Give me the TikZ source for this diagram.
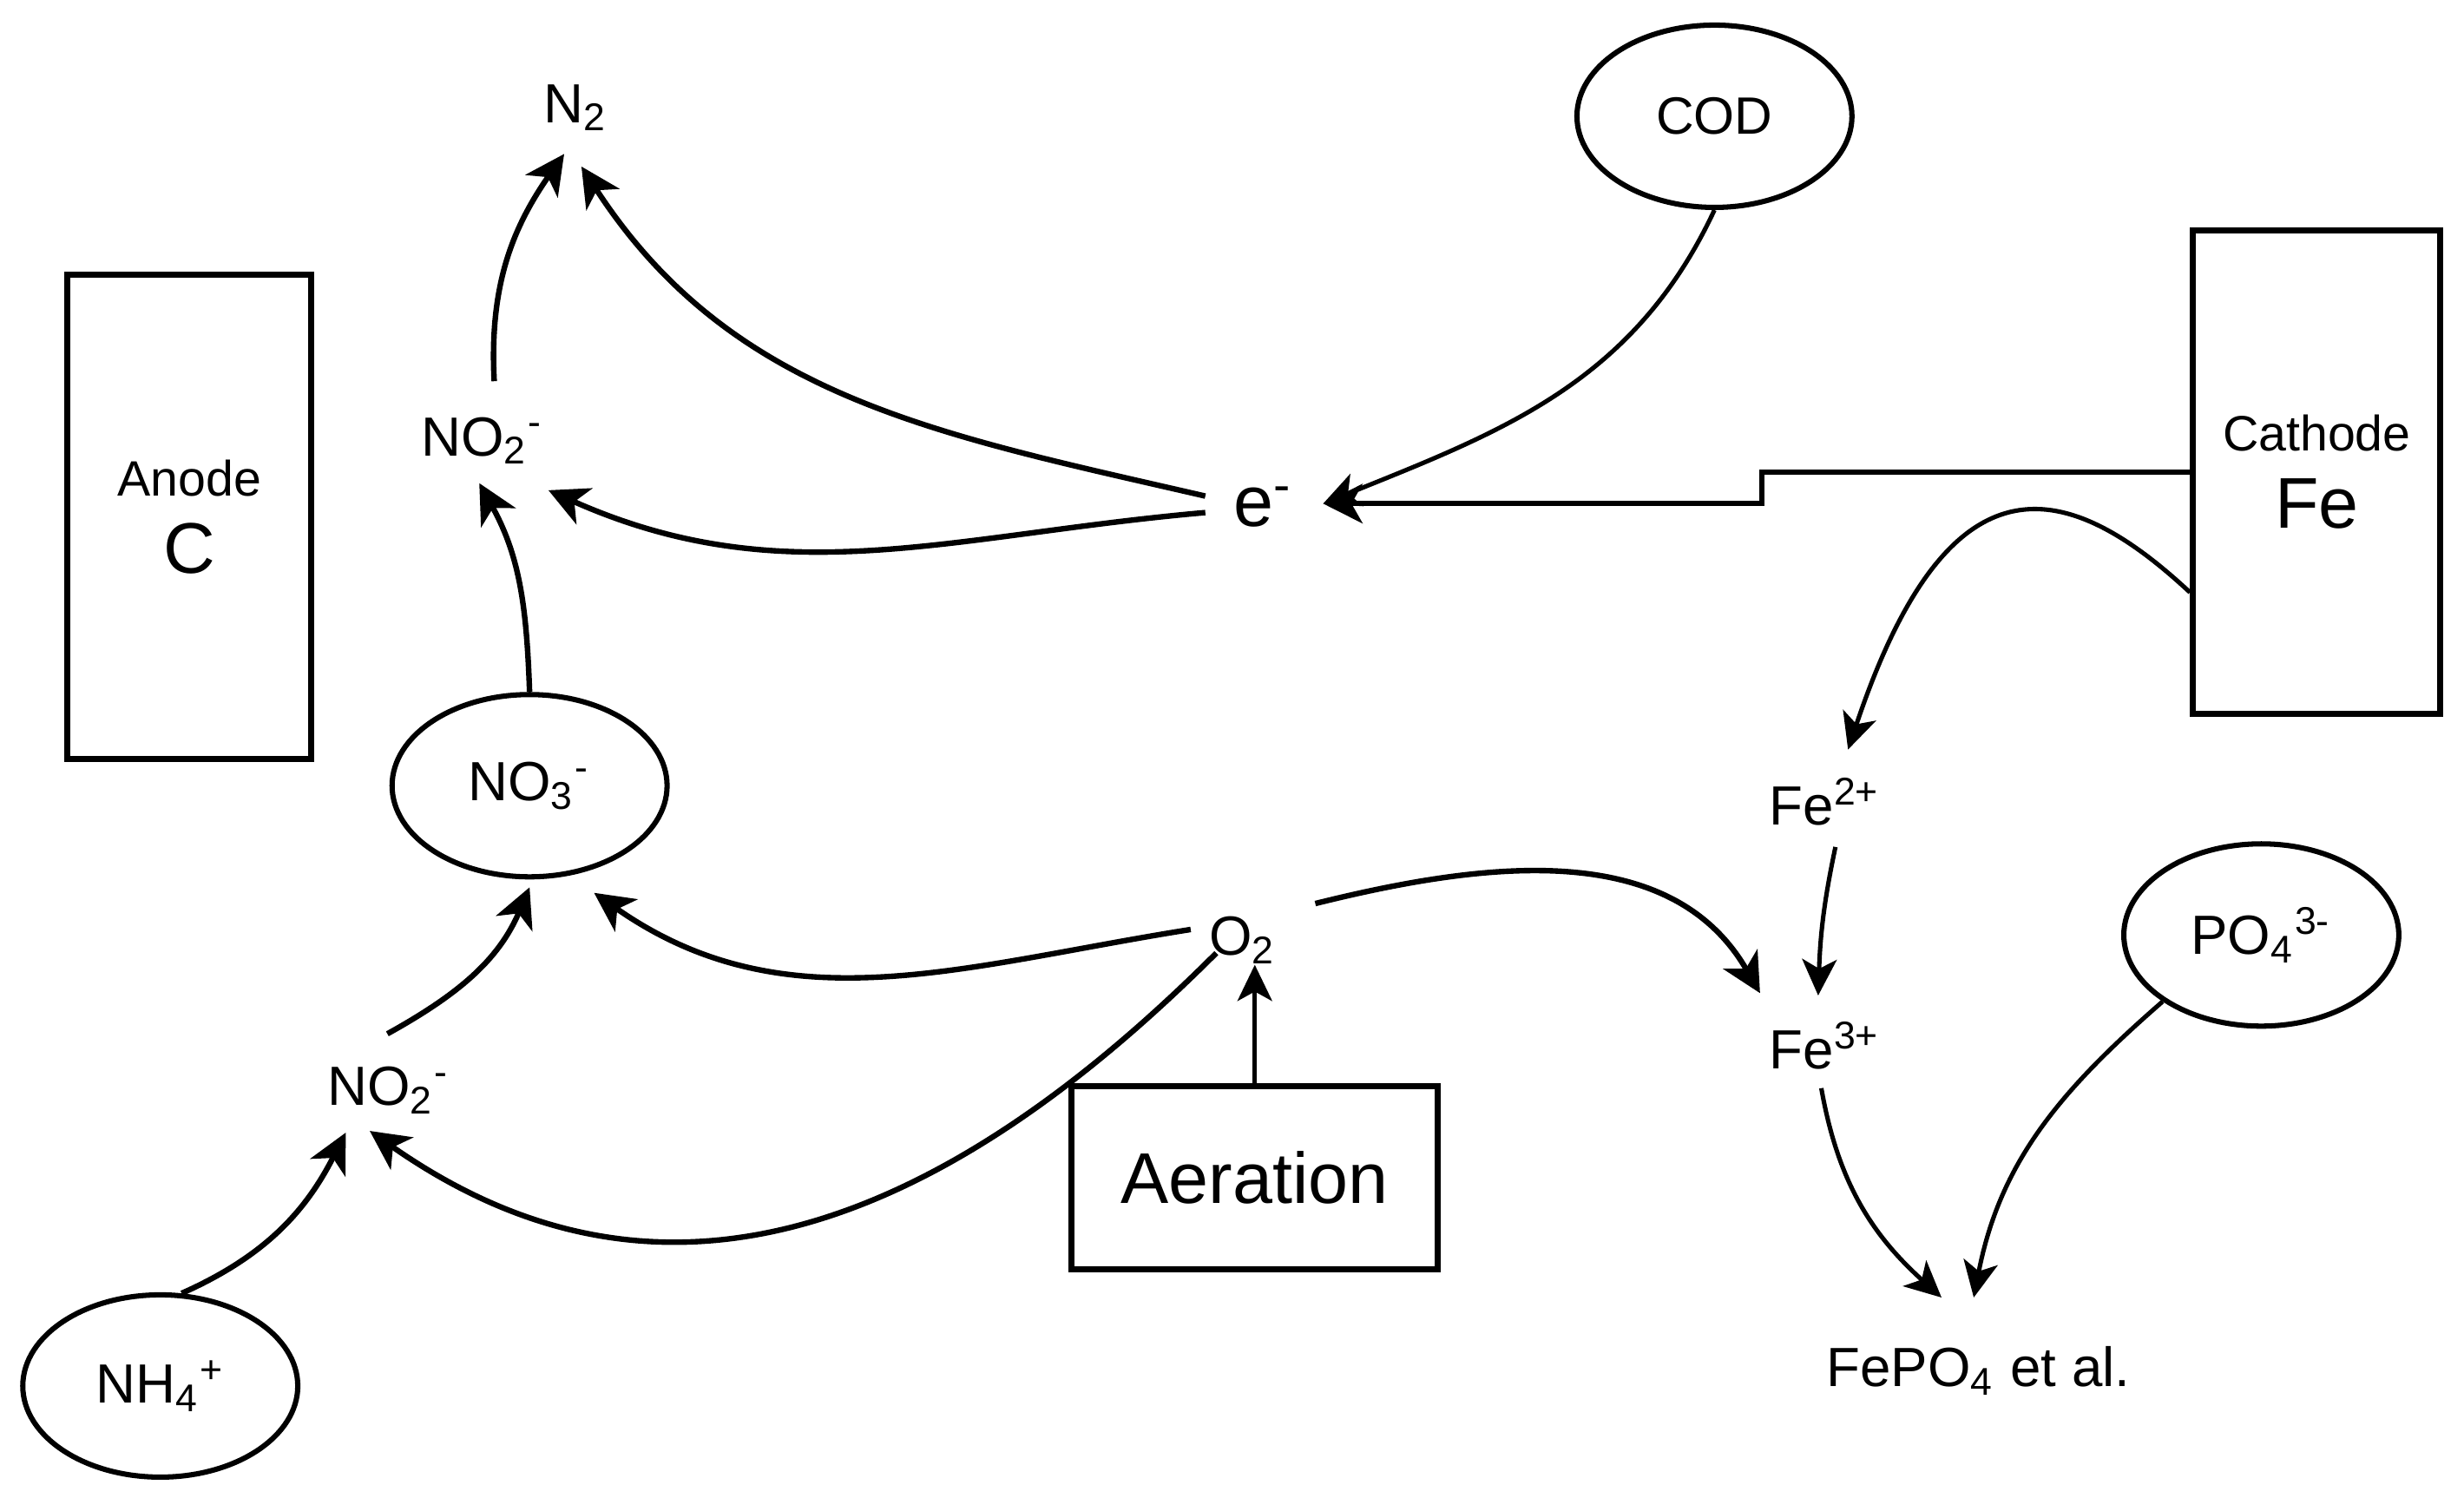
\documentclass[tikz,border=0pt]{standalone}
\usepackage{fontspec}
\setmainfont{Liberation Sans}
\usetikzlibrary{arrows.meta,shapes.geometric}
\tikzset{
  lbl/.style={inner sep=0pt,anchor=base,font=\fontsize{10}{12}\selectfont},
  ion/.style={draw,ellipse,line width=0.95pt,minimum width=1.75cm,minimum height=1.16cm,inner sep=0pt,font=\fontsize{10}{12}\selectfont},
  electrode/.style={draw,line width=1.1pt,minimum width=1.55cm,minimum height=3.08cm,align=center,font=\fontsize{9}{11}\selectfont},
  arr/.style={line width=1pt,-{Stealth[length=2.5mm,width=2.5mm,inset=0.7mm]}},
  arrthin/.style={line width=0.8pt,-{Stealth[length=2.3mm,width=2.2mm,inset=0.6mm]}}
}
\newcommand{\bigtxt}{\fontsize{13}{15}\selectfont}
\begin{document}
\begin{tikzpicture}
\useasboundingbox (0,0) rectangle (15.68,9.53);
% electrodes, aeration
\node[electrode] (anode) at (1.205,6.24) {Anode\\[3pt]{\bigtxt C}};
\node[electrode,minimum width=1.575cm] (cathode) at (14.743,6.525) {Cathode\\[3pt]{\bigtxt Fe}};
\node[draw,line width=1.1pt,minimum width=2.33cm,minimum height=1.17cm,font=\bigtxt] (aer) at (7.985,2.035) {Aeration};
% circled species
\node[ion,font=\fontsize{9.5}{11}\selectfont] (cod) at (10.91,8.79) {COD};
\node[ion] (no3) at (3.37,4.53) {NO\textsubscript{3}\textsuperscript{-}};
\node[ion] (nh4) at (1.02,0.71) {NH\textsubscript{4}\textsuperscript{+}};
\node[ion] (po4) at (14.39,3.58) {PO\textsubscript{4}\textsuperscript{3-}};
% free labels (on baseline)
\node[lbl] (n2) at (3.665,8.75) {N\textsubscript{2}};
\node[lbl] (no2u) at (3.07,6.63) {NO\textsubscript{2}\textsuperscript{-}};
\node[lbl] (no2l) at (2.475,2.495) {NO\textsubscript{2}\textsuperscript{-}};
\node[lbl,font=\bigtxt] (e) at (8.04,6.18) {e\textsuperscript{-}};
\node[lbl] (o2) at (7.91,3.45) {O\textsubscript{2}};
\node[lbl] (fe2) at (11.615,4.28) {Fe\textsuperscript{2+}};
\node[lbl] (fe3) at (11.615,2.73) {Fe\textsuperscript{3+}};
\node[lbl] (fepo4) at (12.59,0.705) {FePO\textsubscript{4} et al.};
% nitrogen
\draw[arr] ([shift={(0.075,0.474)}]no2u.base) to[out=93,in=235] ([shift={(-0.075,-0.2)}]n2.base);
\draw[arr] ([shift={(-0.37,0.193)}]e.base) to[out=167,in=303] ([shift={(0.035,-0.28)}]n2.base);
\draw[arr] ([shift={(-0.37,0.088)}]e.base) to[out=185,in=336] ([shift={(0.42,-0.22)}]no2u.base);
\draw[arr] (no3.north) to[out=92,in=299] ([shift={(-0.02,-0.175)}]no2u.base);
\draw[arr] ([shift={(-0.01,0.456)}]no2l.base) to[out=29,in=247] ([yshift=-0.5mm]no3.south);
\draw[arr] (nh4.77) to[out=24,in=243] ([shift={(-0.275,-0.173)}]no2l.base);
% oxygen
\draw[arrthin] (aer) -- (aer |- o2.south);
\draw[arr] ([shift={(-0.333,0.165)}]o2.base) to[out=189,in=325] ([shift={(-0.22,-0.26)}]no3.south east);
\draw[arr] ([shift={(-0.17,0.015)}]o2.base) .. controls +(225:3.2) and +(325:1.75) .. ([shift={(-0.122,-0.162)}]no2l.base);
\draw[arr] ([shift={(0.46,0.33)}]o2.base) to[out=14,in=120] ([shift={(-0.415,0.48)}]fe3.base);
% electrons
\draw[arrthin] (cod.south) to[out=245,in=22] ([shift={(0.38,0.145)}]e.base);
\draw[arr] (cathode.west) -- ++(-2.725,0) |- ([shift={(0.38,0.145)}]e.base);
% iron, phosphate
\draw[arrthin] ([yshift=-7.65mm]cathode.west) .. controls +(137:1.1) and +(71.5:2) .. ([shift={(0.145,0.48)}]fe2.base);
\draw[arrthin] ([shift={(0.065,-0.14)}]fe2.base) to[out=258,in=88] ([shift={(-0.045,0.465)}]fe3.base);
\draw[arrthin] ([shift={(-0.025,-0.125)}]fe3.base) to[out=280,in=138] ([shift={(-0.235,0.568)}]fepo4.base);
\draw[arrthin] (po4.214) to[out=221,in=79] ([shift={(-0.03,0.568)}]fepo4.base);
\end{tikzpicture}
\end{document}
